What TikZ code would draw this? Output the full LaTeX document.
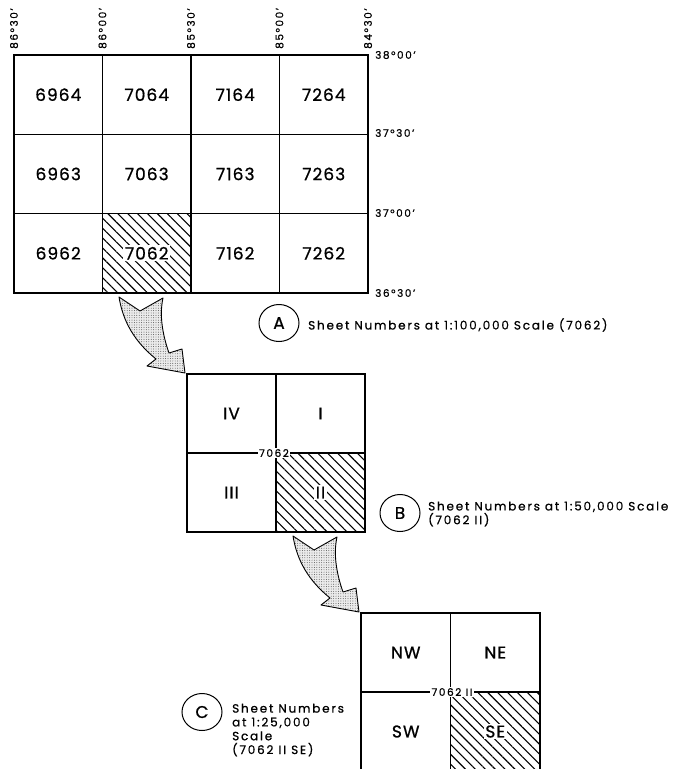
\documentclass[tikz,border=0pt]{standalone}
\usepackage{fontspec}
\setmainfont{Poppins}[LetterSpace=15, FakeBold=0.7]
\newfontfamily\gridfont{Poppins}[LetterSpace=6, FakeBold=0.8]
\usetikzlibrary{positioning,patterns.meta,shapes.geometric}

% curved, dotted arrow that points at a sheet's top-left corner
\tikzset{
  pics/swoop/.style={code={
    \draw[swoop] (-68,-77) -- (-47,-63) -- (-24,-76)
      .. controls (-28,-58) and (-24,-38) .. (-18,-21)
      -- (-5,-25) -- (-2,-1) -- (-40,-8) -- (-31,-15)
      .. controls (-52,-32) and (-64,-52) .. cycle;
  }}
}

\begin{document}
\begin{tikzpicture}[
  x=1pt, y=-1pt,
  font=\gridfont\fontsize{17}{20}\selectfont,
  cell/.style={draw, line width=1.3pt, minimum width=88.5pt, minimum height=79.3pt, inner sep=0pt, outer sep=0pt},
  hatched/.style={pattern={Lines[angle=-45, distance=7pt, line width=1.1pt]}},
  num/.style={fill=white, inner sep=1.5pt},
  deg/.style={font=\fontsize{10.5}{12}\selectfont, inner sep=1pt},
  mid/.style={font=\fontsize{10.5}{12}\selectfont, fill=white, inner sep=1.5pt},
  tag/.style={draw, ellipse, line width=1pt, minimum width=40pt, minimum height=37pt, inner sep=0pt, font=\gridfont\fontsize{17}{18}\selectfont},
  sheetcap/.style={font=\fontsize{12}{13.8}\selectfont, align=left, anchor=west, inner sep=0pt},
  swoop/.style={draw, line width=0.9pt, line join=round, preaction={fill=black!8},
    pattern={Dots[distance=2.4pt, radius=0.45pt]}, pattern color=black!75},
]
\useasboundingbox (0,0) rectangle (676,769);
\clip (0,0) rectangle (676,769);

% 1:100,000 sheets
\foreach \c [count=\i from 0] in {69,70,71,72}
  \foreach \r [count=\j from 0] in {64,63,62}
    \node[cell] (a\c\r) at ({58.25+88.5*\i},{94.65+79.3*\j}) {\c\r};
\fill[hatched] (a7062.north west) rectangle (a7062.south east);
\node[num] at (a7062) {7062};

% graticule
\foreach \lon [count=\i from 0] in {86°30', 86°00', 85°30', 85°00', 84°30'}
  \node[deg, rotate=90, anchor=west] (lon\i) at ({14+88.5*\i},50) {\lon};
\node[deg, anchor=west] (lat1) at (374,55) {38°00'};
\node[deg, anchor=west] (lat2) at (374,133) {37°30'};
\node[deg, anchor=west] (lat3) at (374,213) {37°00'};
\node[deg, anchor=west] (lat4) at (374,293) {36°30'};

\node[tag] (A) at (279,323) {A};
\node[sheetcap] (capA) at (308,325) {Sheet Numbers at 1:100,000 Scale (7062)};

% 1:50,000 sheets
\node[cell, minimum width=89pt, minimum height=79pt] (b4) at (231.5,413.5) {IV};
\node[cell, minimum width=89pt, minimum height=79pt, right=0pt of b4] (b1) {I};
\node[cell, minimum width=89pt, minimum height=79pt, below=0pt of b4] (b3) {III};
\node[cell, minimum width=89pt, minimum height=79pt, hatched, right=0pt of b3] (b2) {};
\node[num] at (b2) {II};
\node[mid] (midB) at (274,453) {7062};
\pic at (b4.north west) {swoop};

\node[tag] (B) at (400,513) {B};
\node[sheetcap] (capB) at (428,514) {Sheet Numbers at 1:50,000 Scale\\(7062 II)};

% 1:25,000 sheets
\node[cell, minimum width=89.5pt, minimum height=79pt] (nw) at (405.75,652.5) {NW};
\node[cell, minimum width=89.5pt, minimum height=79pt, right=0pt of nw] (ne) {NE};
\node[cell, minimum width=89.5pt, minimum height=79pt, below=0pt of nw] (sw) {SW};
\node[cell, minimum width=89.5pt, minimum height=79pt, hatched, right=0pt of sw] (se) {};
\node[num] at (se) {SE};
\node[mid] (midC) at (452,692) {7062 II};
\pic at (nw.north west) {swoop};

\node[tag] (C) at (202,712) {C};
\node[sheetcap] (capC) at (232,730) {Sheet Numbers\\at 1:25,000\\Scale\\(7062 II SE)};
\end{tikzpicture}
\end{document}
